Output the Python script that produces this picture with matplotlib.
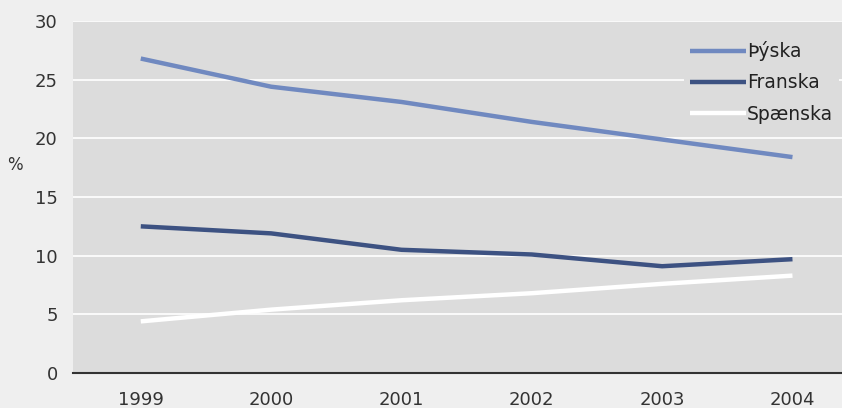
import numpy as np
import matplotlib.pyplot as plt

years = [1999, 2000, 2001, 2002, 2003, 2004]
thyska = [26.8, 24.4, 23.1, 21.4, 19.9, 18.4]
franska = [12.5, 11.9, 10.5, 10.1, 9.1, 9.7]
spaenska = [4.4, 5.4, 6.2, 6.8, 7.6, 8.3]
labels = ["Þýska", "Franska", "Spænska"]
colors = ["#7089c0", "#3d5282", "#ffffff"]

fig = plt.figure(figsize=(8.42, 4.08), dpi=100, facecolor="#efefef")
ax = fig.add_axes([73 / 842, 35 / 408, 1 - 73 / 842, 352 / 408])
ax.set_facecolor("#dcdcdc")

for vals, lab, col in zip([thyska, franska, spaenska], labels, colors):
    ax.plot(years, vals, color=col, lw=3.2, label=lab, solid_capstyle="butt")

ax.set_ylim(0, 30)
ax.set_xlim(1998.48, 2004.38)
ax.set_yticks(np.arange(0, 31, 5))
ax.set_xticks(years)
ax.yaxis.grid(True, color="white", lw=1.2)
ax.set_axisbelow(True)
for s in ["top", "right", "left"]:
    ax.spines[s].set_visible(False)
ax.spines["bottom"].set_color("#333333")
ax.spines["bottom"].set_linewidth(1.5)
ax.tick_params(length=0, labelsize=13, colors="#333333")
ax.tick_params(axis="y", pad=11)
ax.tick_params(axis="x", pad=13)

fig.text(15 / 842, 1 - 165 / 408, "%", fontsize=12, color="#333333",
         ha="center", va="center")

leg = ax.legend(loc="upper right", bbox_to_anchor=(1.008, 0.985), frameon=True,
                facecolor="#dcdcdc", edgecolor="none", framealpha=1,
                fontsize=13.5, handlelength=3.0, handletextpad=0.05,
                labelspacing=0.65, borderpad=0.3)
for t in leg.get_texts():
    t.set_color("#222222")

fig.savefig("out.png", dpi=100, facecolor=fig.get_facecolor())
